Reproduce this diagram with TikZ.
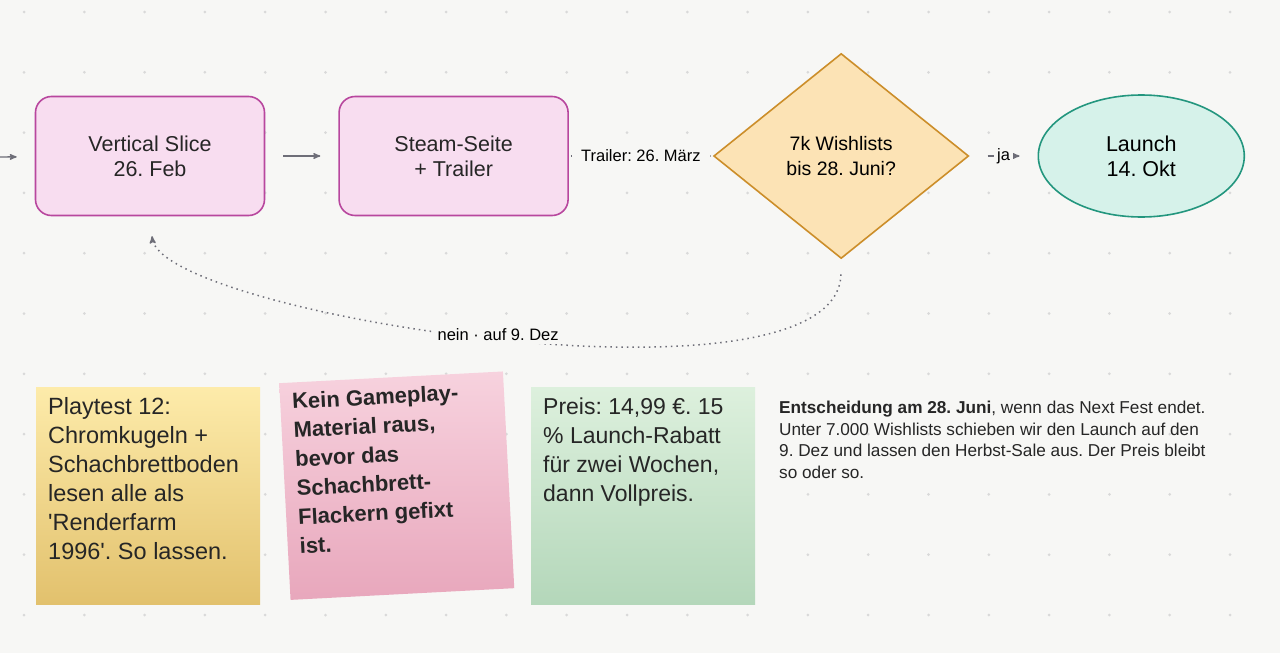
\documentclass[tikz,border=0pt]{standalone}
\usepackage{fontspec}
\setmainfont{Liberation Sans}
\frenchspacing
\usetikzlibrary{arrows, positioning, shapes.geometric}
\definecolor{bg}{HTML}{F7F7F5}
\definecolor{griddot}{HTML}{D9D9D9}
\definecolor{edgegrey}{HTML}{6E6E78}
\definecolor{slicefill}{HTML}{F8DDF0}
\definecolor{sliceline}{HTML}{B8479E}
\definecolor{gatefill}{HTML}{FCE3B5}
\definecolor{gateline}{HTML}{CC8E2A}
\definecolor{launchfill}{HTML}{D6F2EA}
\definecolor{launchline}{HTML}{23967E}
\definecolor{yellowtop}{HTML}{FDEBAA}
\definecolor{yellowbottom}{HTML}{E2C16D}
\definecolor{pinktop}{HTML}{F7D2DE}
\definecolor{pinkbottom}{HTML}{E8A7BC}
\definecolor{greentop}{HTML}{DDF0DD}
\definecolor{greenbottom}{HTML}{B4D7BA}
\tikzstyle{plan}=[x=1pt, y=-1pt, >=stealth', font=\fontsize{21.5}{25}\selectfont\frenchspacing]
\tikzstyle{milestone}=[draw=sliceline, fill=slicefill, line width=1.6pt, rounded corners=16pt, minimum width=229pt, minimum height=119pt, align=center, text=black!85]
\tikzstyle{flow}=[->, draw=edgegrey, line width=1.4pt]
\tikzstyle{edgelabel}=[fill=bg, font=\fontsize{16.5}{18}\selectfont\frenchspacing, inner sep=3pt]
\tikzstyle{sticky}=[anchor=north west, minimum width=224pt, minimum height=217pt, inner xsep=12pt, inner ysep=10pt, text=black!85]
\newcommand{\notetext}[2]{\parbox[t][196pt][t]{200pt}{\fontsize{#1}{29}\selectfont\frenchspacing #2}}

\begin{document}
\begin{tikzpicture}[plan]
  \fill[bg] (0,0) rectangle (1280,653);
  \useasboundingbox (0,0) rectangle (1280,653);
  \foreach \i in {0,...,21}
    \foreach \j in {0,...,10}
      \fill[griddot] (24+60.3*\i,12+60.3*\j) circle (1.5pt);
  % timeline
  \node[milestone] (vs) at (150,156) {Vertical Slice\\26. Feb};
  \node[milestone] (steam) [right=73pt of vs] {Steam-Seite\\+ Trailer};
  \node[diamond, draw=gateline, fill=gatefill, line width=1.6pt, minimum width=255pt, minimum height=205pt, aspect=1.24, inner sep=0pt, align=center, font=\fontsize{19.5}{25}\selectfont\frenchspacing] (gate) [right=144pt of steam] {7k Wishlists\\bis 28. Juni?};
  \node[ellipse, draw=launchline, fill=launchfill, line width=1.6pt, minimum width=206pt, minimum height=122pt, align=center] (launch) [right=68pt of gate] {Launch\\14. Okt};
  \coordinate (start) at (0,157);
  \draw[flow, shorten >=18pt] (start) -- (vs);
  \draw[flow, shorten <=18pt, shorten >=18pt] (vs) -- (steam);
  \draw[flow, shorten <=2pt, shorten >=2pt] (steam) -- node[edgelabel, inner xsep=9pt] {Trailer: 26. März} (gate);
  \draw[flow, shorten <=18pt, shorten >=18pt] (gate) -- node[edgelabel] {ja} (launch);
  \draw[->, draw=edgegrey, line width=1.5pt, dash pattern=on 1.5pt off 4pt, shorten <=15pt, shorten >=20pt]
    (gate.south) .. controls (838,420) and (160,315) .. node[edgelabel, pos=0.5] {nein · auf 9. Dez} (vs.south);
  % notes
  \node[sticky, top color=yellowtop, bottom color=yellowbottom] (playtest) at (36,387)
    {\notetext{23.5}{Playtest 12:\\Chromkugeln +\\Schachbrettboden\\lesen alle als\\\textquotesingle Renderfarm\\1996\textquotesingle. So lassen.}};
  \node[sticky, rotate=3, top color=pinktop, bottom color=pinkbottom, font=\bfseries] (freeze) at (279,383)
    {\notetext{22}{\bfseries Kein Gameplay-\\Material raus,\\bevor das\\Schachbrett-\\Flackern gefixt\\ist.}};
  \node[sticky, top color=greentop, bottom color=greenbottom] (price) at (531,387)
    {\notetext{23}{Preis: 14,99 €. 15\\\% Launch-Rabatt\\für zwei Wochen,\\dann Vollpreis.}};
  \node[anchor=north west, align=left, font=\fontsize{17.2}{21.5}\selectfont\frenchspacing, text=black!85, inner sep=0pt] (decision) at (779,401)
    {\textbf{Entscheidung am 28. Juni}, wenn das Next Fest endet.\\Unter 7.000 Wishlists schieben wir den Launch auf den\\9. Dez und lassen den Herbst-Sale aus. Der Preis bleibt\\so oder so.};
\end{tikzpicture}
\end{document}
